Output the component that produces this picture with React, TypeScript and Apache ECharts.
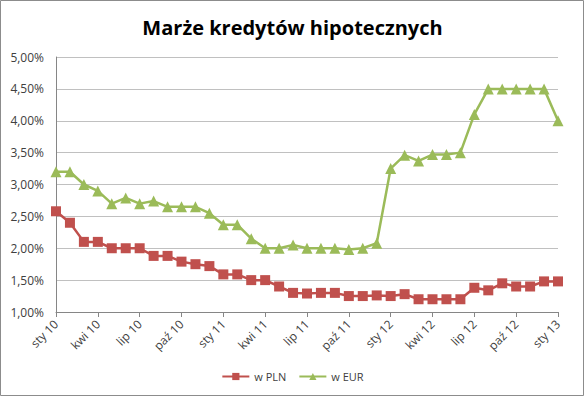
import React, { useEffect, useRef } from "react";
import * as echarts from "echarts";

const months = ["sty", "lut", "mar", "kwi", "maj", "cze", "lip", "sie", "wrz", "paź", "lis", "gru"];
const years = ["10", "11", "12"];
const categories: string[] = [];
for (const y of years) for (const m of months) categories.push(m + " " + y);
categories.push("sty 13");

const plnValues = [
  2.58, 2.4, 2.1, 2.1, 2.0, 2.0, 2.0, 1.88, 1.88, 1.79, 1.75, 1.72,
  1.59, 1.59, 1.5, 1.5, 1.4, 1.3, 1.29, 1.3, 1.3, 1.25, 1.25, 1.26,
  1.25, 1.28, 1.2, 1.2, 1.2, 1.2, 1.38, 1.34, 1.45, 1.4, 1.4, 1.48, 1.48,
];
const eurValues = [
  3.2, 3.2, 3.0, 2.9, 2.7, 2.79, 2.7, 2.74, 2.65, 2.65, 2.65, 2.55,
  2.37, 2.37, 2.15, 2.0, 2.0, 2.05, 2.0, 2.0, 2.0, 1.98, 2.0, 2.08,
  3.25, 3.46, 3.37, 3.47, 3.47, 3.5, 4.1, 4.5, 4.5, 4.5, 4.5, 4.5, 4.0,
];
const title = "Marże kredytów hipotecznych";
const seriesNames = ["w PLN", "w EUR"];

const FONT = "'Open Sans', 'Noto Sans', sans-serif";

export default function App() {
  const ref = useRef<HTMLDivElement>(null);
  useEffect(() => {
    if (!ref.current) return;
    const chart = echarts.init(ref.current, undefined, { renderer: "svg" });
    chart.setOption({
      animation: false,
      backgroundColor: "#ffffff",
      title: {
        text: title,
        left: "center",
        top: 12,
        textStyle: { fontFamily: FONT, fontSize: 20, fontWeight: "bold", color: "#000" },
      },
      graphic: [
        {
          type: "rect",
          shape: { x: 0.5, y: 0.5, width: 583, height: 395 },
          style: { fill: "none", stroke: "#8c8c8c", lineWidth: 1 },
          silent: true,
        },
      ],
      legend: {
        bottom: 10,
        left: "center",
        itemWidth: 27,
        itemHeight: 9,
        itemGap: 12,
        textStyle: { fontFamily: FONT, fontSize: 11, color: "#404040" },
        data: seriesNames,
      },
      grid: { left: 56, right: 27, top: 57, bottom: 85 },
      xAxis: {
        type: "category",
        data: categories,
        boundaryGap: false,
        axisLine: { lineStyle: { color: "#868686" } },
        axisTick: { interval: 2, length: 5, lineStyle: { color: "#868686" } },
        axisLabel: {
          interval: 2,
          rotate: 45,
          fontFamily: FONT,
          fontSize: 12,
          color: "#404040",
          margin: 10,
        },
      },
      yAxis: {
        type: "value",
        min: 1,
        max: 5,
        interval: 0.5,
        axisLine: { show: true, lineStyle: { color: "#868686" } },
        axisTick: { show: false },
        splitLine: { lineStyle: { color: "#c0c0c0" } },
        axisLabel: {
          fontFamily: FONT,
          fontSize: 12,
          color: "#404040",
          margin: 12,
          formatter: (v: number) => v.toFixed(2).replace(".", ",") + "%",
        },
      },
      series: [
        {
          name: seriesNames[0],
          type: "line",
          data: plnValues,
          symbol: "rect",
          symbolSize: 10,
          showAllSymbol: true,
          itemStyle: { color: "#C0504D" },
          lineStyle: { color: "#C0504D", width: 2.5 },
        },
        {
          name: seriesNames[1],
          type: "line",
          data: eurValues,
          symbol: "triangle",
          symbolSize: 11,
          showAllSymbol: true,
          itemStyle: { color: "#9BBB59" },
          lineStyle: { color: "#9BBB59", width: 2.5 },
        },
      ],
    });
    return () => chart.dispose();
  }, []);
  return (
    <div
      ref={ref}
      style={{ position: "absolute", left: 0, top: 0, width: 585, height: 397 }}
    />
  );
}
